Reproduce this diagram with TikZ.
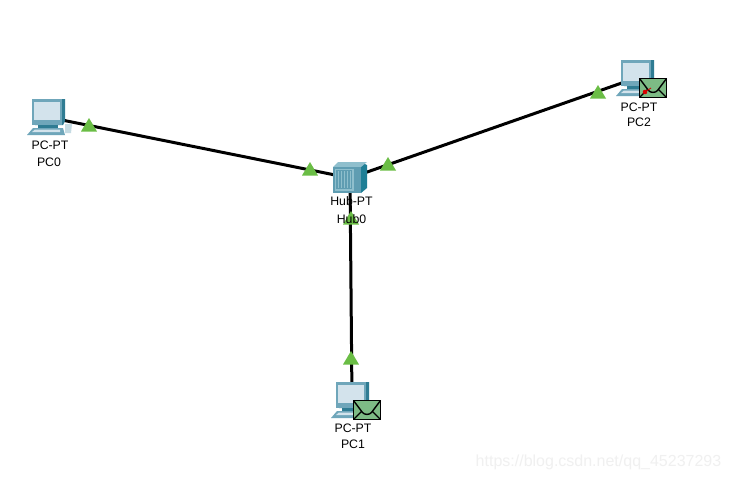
\documentclass[tikz,border=0pt]{standalone}
\usepackage{fontspec}
\setmainfont{Liberation Sans}
\definecolor{scr}{HTML}{D3E3EC}
\definecolor{frm}{HTML}{6FA6BA}
\definecolor{frmd}{HTML}{2F7C93}
\definecolor{hubf}{HTML}{5F9DB2}
\definecolor{hubt}{HTML}{8FBFCD}
\definecolor{hubs}{HTML}{1F7F96}
\definecolor{tri}{HTML}{6ABD45}
\definecolor{env}{HTML}{7DBB85}
\tikzset{
  x=1pt,y=-1pt,
  anchorpt/.style={inner sep=0pt,minimum size=0pt},
  lnk/.style={line width=3pt,black},
  lbl/.style={font=\fontsize{12.3}{12.3}\selectfont,text=black,inner sep=0pt,anchor=center},
  wm/.style={font=\fontsize{16}{16}\selectfont,text=black!6,inner sep=0pt,anchor=center},
  tip/.style={fill=tri,draw=none},
  pcicon/.pic={
    % monitor shell (origin at icon centre)
    \fill[frmd] (-12,-18) -- (18,-18) -- (18,4) -- (16,8) -- (-12,8) -- cycle;
    \fill[frm] (-15,-18) -- (15,-18) -- (15,8) -- (-15,8) -- cycle;
    \fill[scr] (-13,-15) rectangle (13,3);
    \fill[frmd] (-9,8) rectangle (11,11);
    % keyboard
    \fill[frm] (-14,11) -- (16,11) -- (18,18) -- (-20,18) -- cycle;
    \fill[scr] (-12,12.5) -- (13,12.5) -- (13,15) -- (-15,15) -- cycle;
    \fill[white!60!frm] (18,7) -- (25,7) -- (24,16) -- (18,16) -- cycle;
  },
  envicon/.pic={
    \fill[env,draw=black,line width=1.6pt] (0,0) rectangle (27,19);
    \draw[black,line width=1.4pt] (0,0) -- (9,12) .. controls (11,14.5) and (16,14.5) .. (18,12) -- (27,0);
    \draw[black,line width=1.1pt] (0,19) -- (8,11) (27,19) -- (19,11);
  },
  trimark/.pic={\fill[tip] (0,-7) -- (8,6.5) -- (-8,6.5) -- cycle;}
}
\begin{document}
\begin{tikzpicture}
\useasboundingbox (0,0) rectangle (729,480);
\fill[white] (0,0) rectangle (729,480);
\node[anchorpt] (pc0) at (47,117) {};
\node[anchorpt] (pc1) at (352,400) {};
\node[anchorpt] (pc2) at (636,78) {};
\node[anchorpt] (hub) at (350,178) {};
\draw[lnk] (pc0) -- (hub);
\draw[lnk] (hub) -- (pc2);
\draw[lnk] (hub) -- (pc1);
% link lights
\pic at (89,125) {trimark};
\pic at (310,169) {trimark};
\pic at (388,164) {trimark};
\pic at (598,92) {trimark};
\pic at (351,218) {trimark};
\pic at (351,358) {trimark};
% computers
\pic at (pc0) {pcicon};
\pic at ([xshift=-1pt]pc1) {pcicon};
\pic at (pc2) {pcicon};
% hub
\fill[hubs] (361,162) -- (367,165) -- (367,188) -- (361,193) -- cycle;
\fill[hubt] (338,162) -- (367,162) -- (361,167) -- (333,167) -- cycle;
\fill[hubf] (333,167) rectangle (361,193);
\fill[hubt] (334.5,168.5) rectangle (353.5,190.5);
\fill[hubf] (336,170) rectangle (352,189);
\foreach \lx in {338.5,341.5,344.5,347.5,350.5}
  \draw[hubt,line width=0.8pt] (\lx,171) -- (\lx,188);
% mail
\pic at (639.5,78.5) {envicon};
\pic at (353.5,400.5) {envicon};
\fill[red!85!black] (645,92) circle (2.3);
\draw[red!85!black,line width=0.9pt] (645,92) -- (651,88);
% labels
\node[lbl] (t0a) at (50,145) {PC-PT};
\node[lbl] (t0b) at (49,162) {PC0};
\node[lbl] (t1a) at (353,428) {PC-PT};
\node[lbl] (t1b) at (353,444) {PC1};
\node[lbl] (t2a) at (639,107) {PC-PT};
\node[lbl] (t2b) at (639,122) {PC2};
\node[lbl] (tha) at (351.5,201) {Hub-PT};
\node[lbl] (thb) at (351.5,219) {Hub0};
\node[wm] (wmk) at (598.5,462) {https://blog.csdn.net/qq\_45237293};
\end{tikzpicture}
\end{document}
